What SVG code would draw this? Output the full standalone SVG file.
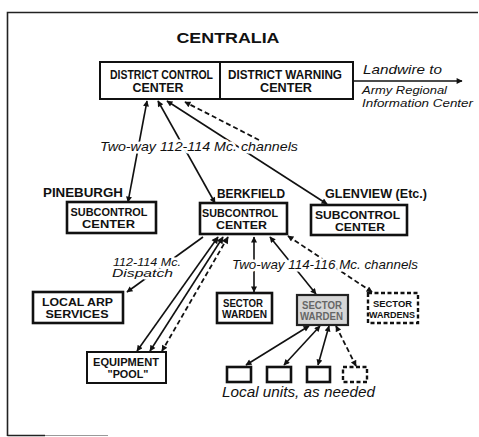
<svg xmlns="http://www.w3.org/2000/svg" width="479" height="437" viewBox="0 0 479 437">
<style>
.frame{stroke:#222;stroke-width:1.6;fill:none}
.box{fill:#fff;stroke:#111;stroke-width:2.6}
.thin{fill:#fff;stroke:#111;stroke-width:2}
.dbox{fill:#fff;stroke:#111;stroke-width:2.4;stroke-dasharray:4 2.5}
.gbox{fill:#d6d6d6;stroke:#222;stroke-width:2.2}
.cap{font-family:"Liberation Sans",Arial,sans-serif;font-weight:bold;fill:#111;text-anchor:middle}
.it{font-family:"Liberation Sans",Arial,sans-serif;font-style:italic;fill:#111;paint-order:stroke;stroke:#fff;stroke-width:5;stroke-linejoin:round}
.ln{stroke:#111;stroke-width:1.6;fill:none}
.ds{stroke:#111;stroke-width:1.8;fill:none;stroke-dasharray:5 3}
</style>
<defs>
<marker id="ah" viewBox="0 0 10 10" refX="9" refY="5" markerWidth="9" markerHeight="6" markerUnits="userSpaceOnUse" orient="auto-start-reverse"><path d="M0,0 L10,5 L0,10 z" fill="#111"/></marker>
<marker id="ahL" viewBox="0 0 10 10" refX="9" refY="5" markerWidth="11" markerHeight="7" markerUnits="userSpaceOnUse" orient="auto-start-reverse"><path d="M0,0 L10,5 L0,10 z" fill="#111"/></marker>
</defs>
<g id="frame">
<path class="frame" d="M7.5,436 V12.5 H478"/>
<path d="M7.5,435.5 H45" stroke="#222" stroke-width="1.6"/>
<path d="M45,435.5 H108" stroke="#999" stroke-width="1.2"/>
</g>
<text id="title" x="228" y="43" class="cap" font-size="14" textLength="103" lengthAdjust="spacingAndGlyphs">CENTRALIA</text>
<g id="connectors">
<path class="ln" d="M353,81 H462" marker-end="url(#ah)"/>
<path class="ln" d="M147,101 L128,202" marker-start="url(#ah)" marker-end="url(#ah)"/>
<path class="ln" d="M158,101 L215,203" marker-start="url(#ah)" marker-end="url(#ah)"/>
<path class="ln" d="M167,101 L327,204" marker-start="url(#ah)" marker-end="url(#ah)"/>
<path class="ds" d="M259,140 L185,102" marker-end="url(#ah)"/>
<path class="ln" d="M203,237 L127,292" marker-end="url(#ah)"/>
<path class="ln" d="M218,237 L137,351" marker-start="url(#ahL)" marker-end="url(#ah)"/>
<path class="ln" d="M223,237 L150,351" marker-start="url(#ahL)" marker-end="url(#ah)"/>
<path class="ds" d="M228,237 L162,351" marker-start="url(#ahL)" marker-end="url(#ah)"/>
<path class="ln" d="M254,237 V292" marker-start="url(#ah)" marker-end="url(#ah)"/>
<path class="ln" d="M270,237 L316,294" marker-start="url(#ah)" marker-end="url(#ah)"/>
<path class="ds" d="M288,236 L372,292" marker-start="url(#ah)" marker-end="url(#ah)"/>
<path class="ln" d="M309,326 L246,365" marker-start="url(#ah)" marker-end="url(#ah)"/>
<path class="ln" d="M320,326 L284,365" marker-start="url(#ah)" marker-end="url(#ah)"/>
<path class="ln" d="M329,326 L318,365" marker-start="url(#ah)" marker-end="url(#ah)"/>
<path class="ds" d="M336,326 L356,366" marker-start="url(#ah)" marker-end="url(#ah)"/>
</g>
<g id="labels">
<text class="it" x="363" y="74" font-size="13" textLength="79" lengthAdjust="spacingAndGlyphs" stroke-width="0">Landwire to</text>
<text class="it" x="362" y="94" font-size="11" textLength="85" lengthAdjust="spacingAndGlyphs" stroke-width="0">Army Regional</text>
<text class="it" x="362" y="107" font-size="11" textLength="111" lengthAdjust="spacingAndGlyphs" stroke-width="0">Information Center</text>
<text class="it" x="100" y="151" font-size="13" textLength="198" lengthAdjust="spacingAndGlyphs">Two-way 112-114 Mc. channels</text>
<text class="it" x="113" y="266" font-size="11" textLength="68" lengthAdjust="spacingAndGlyphs">112-114 Mc.</text>
<text class="it" x="112" y="277" font-size="11" textLength="61" lengthAdjust="spacingAndGlyphs">Dispatch</text>
<text class="it" x="232" y="269" font-size="13" textLength="186" lengthAdjust="spacingAndGlyphs">Two-way 114-116 Mc. channels</text>
<text class="it" x="222" y="397" font-size="14" textLength="153" lengthAdjust="spacingAndGlyphs" stroke-width="0">Local units, as needed</text>
</g>
<g id="district">
<rect class="thin" x="100" y="62" width="253" height="37"/>
<line x1="220" y1="62" x2="220" y2="99" stroke="#111" stroke-width="2"/>
<text class="cap" x="161.5" y="79" font-size="12" textLength="103" lengthAdjust="spacingAndGlyphs">DISTRICT CONTROL</text>
<text class="cap" x="158" y="92" font-size="12" textLength="51" lengthAdjust="spacingAndGlyphs">CENTER</text>
<text class="cap" x="285" y="79" font-size="12" textLength="114" lengthAdjust="spacingAndGlyphs">DISTRICT WARNING</text>
<text class="cap" x="286" y="92" font-size="12" textLength="52" lengthAdjust="spacingAndGlyphs">CENTER</text>
</g>
<g id="pineburgh">
<text class="cap" x="83" y="197" font-size="13" textLength="80" lengthAdjust="spacingAndGlyphs">PINEBURGH</text>
<rect class="box" x="67" y="202" width="89" height="31"/>
<text class="cap" x="109" y="216" font-size="11" textLength="77" lengthAdjust="spacingAndGlyphs">SUBCONTROL</text>
<text class="cap" x="108.5" y="228" font-size="11" textLength="53" lengthAdjust="spacingAndGlyphs">CENTER</text>
</g>
<g id="berkfield">
<text class="cap" x="251" y="198" font-size="13" textLength="68" lengthAdjust="spacingAndGlyphs">BERKFIELD</text>
<rect class="box" x="200" y="203" width="87" height="31"/>
<text class="cap" x="240" y="217" font-size="11" textLength="76" lengthAdjust="spacingAndGlyphs">SUBCONTROL</text>
<text class="cap" x="241.5" y="229" font-size="11" textLength="51" lengthAdjust="spacingAndGlyphs">CENTER</text>
</g>
<g id="glenview">
<text class="cap" x="376" y="198" font-size="13" textLength="102" lengthAdjust="spacingAndGlyphs">GLENVIEW (Etc.)</text>
<rect class="box" x="311" y="205" width="96" height="30"/>
<text class="cap" x="357.5" y="219" font-size="11" textLength="85" lengthAdjust="spacingAndGlyphs">SUBCONTROL</text>
<text class="cap" x="360" y="231" font-size="11" textLength="50" lengthAdjust="spacingAndGlyphs">CENTER</text>
</g>
<g id="local-arp">
<rect class="box" x="33" y="292" width="90" height="31"/>
<text class="cap" x="77.5" y="306" font-size="11" textLength="71" lengthAdjust="spacingAndGlyphs">LOCAL ARP</text>
<text class="cap" x="77" y="318" font-size="11" textLength="63" lengthAdjust="spacingAndGlyphs">SERVICES</text>
</g>
<g id="equipment-pool">
<rect class="thin" x="87" y="352" width="79" height="31"/>
<text class="cap" x="126" y="366" font-size="11" textLength="66" lengthAdjust="spacingAndGlyphs">EQUIPMENT</text>
<text class="cap" x="128" y="378" font-size="11" textLength="41" lengthAdjust="spacingAndGlyphs">"POOL"</text>
</g>
<g id="sector-warden-1">
<rect class="box" x="217" y="293" width="55" height="30" stroke-width="3"/>
<text class="cap" x="243" y="307" font-size="10" textLength="40" lengthAdjust="spacingAndGlyphs">SECTOR</text>
<text class="cap" x="244.5" y="318" font-size="10" textLength="45" lengthAdjust="spacingAndGlyphs">WARDEN</text>
</g>
<g id="sector-warden-2">
<rect class="gbox" x="297" y="295" width="51" height="30"/>
<text class="cap" x="322" y="309" font-size="10" textLength="40" lengthAdjust="spacingAndGlyphs" style="fill:#666">SECTOR</text>
<text class="cap" x="321.5" y="320" font-size="10" textLength="43" lengthAdjust="spacingAndGlyphs" style="fill:#666">WARDEN</text>
</g>
<g id="sector-wardens">
<rect class="dbox" x="368" y="293" width="50" height="30"/>
<text class="cap" x="392.5" y="307" font-size="9.5" textLength="39" lengthAdjust="spacingAndGlyphs">SECTOR</text>
<text class="cap" x="392" y="318" font-size="9.5" textLength="46" lengthAdjust="spacingAndGlyphs">WARDENS</text>
</g>
<g id="local-units">
<rect class="box" x="227" y="367" width="24" height="15"/>
<rect class="box" x="267" y="367" width="24" height="15"/>
<rect class="box" x="307" y="367" width="23" height="15"/>
<rect class="dbox" x="343" y="367" width="24" height="15"/>
</g>
</svg>
